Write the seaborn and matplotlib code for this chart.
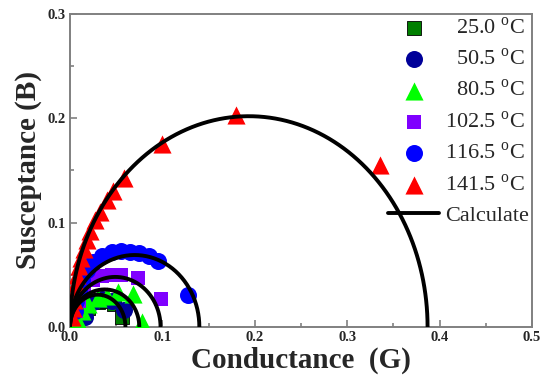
import numpy as np
import pandas as pd
import matplotlib
matplotlib.use("Agg")
import matplotlib.pyplot as plt
import seaborn as sns

# measured admittance points (G, B) for each temperature
g_25 = [0.012, 0.020, 0.030, 0.040, 0.048, 0.056]
b_25 = [0.010, 0.018, 0.024, 0.025, 0.022, 0.010]

g_50 = [0.006, 0.012, 0.016, 0.025, 0.035, 0.045, 0.058]
b_50 = [0.006, 0.012, 0.010, 0.024, 0.027, 0.025, 0.016]

g_80 = [0.008, 0.013, 0.020, 0.030, 0.040, 0.052, 0.068, 0.078]
b_80 = [0.008, 0.015, 0.022, 0.028, 0.030, 0.034, 0.032, 0.005]

g_102 = [0.006, 0.010, 0.015, 0.025, 0.035, 0.045, 0.055, 0.074, 0.098]
b_102 = [0.015, 0.025, 0.035, 0.045, 0.049, 0.050, 0.050, 0.047, 0.027]

g_116 = [0.005, 0.007, 0.010, 0.013, 0.018, 0.025, 0.035, 0.045, 0.055,
         0.065, 0.075, 0.085, 0.095, 0.128]
b_116 = [0.015, 0.025, 0.035, 0.045, 0.055, 0.062, 0.068, 0.072, 0.073,
         0.072, 0.071, 0.068, 0.063, 0.031]

g_141 = [0.002, 0.003, 0.004, 0.005, 0.007, 0.008, 0.010, 0.012, 0.015,
         0.018, 0.022, 0.027, 0.032, 0.040, 0.047, 0.058, 0.100, 0.180, 0.335]
b_141 = [0.010, 0.018, 0.026, 0.034, 0.042, 0.050, 0.058, 0.066, 0.075,
         0.083, 0.092, 0.103, 0.110, 0.122, 0.130, 0.143, 0.175, 0.203, 0.155]

# calculated semicircles: high-frequency G intercept and peak B
calc_gmax = [0.060, 0.075, 0.098, 0.140, 0.387]
calc_bpeak = [0.031, 0.036, 0.048, 0.069, 0.202]

labels = ["25.0", "50.5", "80.5", "102.5", "116.5", "141.5"]
series = [(g_25, b_25), (g_50, b_50), (g_80, b_80),
          (g_102, b_102), (g_116, b_116), (g_141, b_141)]
colors = ["#007f00", "#000099", "#00ff00", "#7f00ff", "#0000ff", "#ff0000"]
markers = ["s", "o", "^", "s", "o", "^"]
sizes = [110, 150, 170, 110, 150, 170]

sns.set_style("ticks")
plt.rcParams["font.family"] = ["Liberation Serif", "DejaVu Serif"]
plt.rcParams["mathtext.fontset"] = "custom"
plt.rcParams["mathtext.rm"] = "Liberation Serif"

fig = plt.figure(figsize=(5.49, 3.87), dpi=100)
ax = fig.add_axes([0.1275, 0.155, 0.8415, 0.809])

for i, (g, b) in enumerate(series):
    df = pd.DataFrame({"G": g, "B": b})
    pad = "\u2007" if len(labels[i]) == 4 else ""
    sns.scatterplot(data=df, x="G", y="B", ax=ax, color=colors[i],
                    marker=markers[i], s=sizes[i],
                    edgecolor="black" if i == 0 else colors[i],
                    linewidth=0.6 if i == 0 else 0, zorder=2 + i,
                    label=pad + labels[i] + " $^{\\rm o}$C")

t = np.linspace(0, np.pi, 200)
for k, (gm, bp) in enumerate(zip(calc_gmax, calc_bpeak)):
    cdf = pd.DataFrame({"G": gm / 2 + gm / 2 * np.cos(t), "B": bp * np.sin(t)})
    sns.lineplot(data=cdf, x="G", y="B", ax=ax, sort=False, color="black",
                 lw=2.8, zorder=10, label="Calculate" if k == 0 else None)

ax.set_xlim(0, 0.5)
ax.set_ylim(0, 0.3)
ax.set_xticks([0.0, 0.1, 0.2, 0.3, 0.4, 0.5])
ax.set_yticks([0.0, 0.1, 0.2, 0.3])
ax.set_xticks(np.arange(0.05, 0.5, 0.1), minor=True)
ax.set_yticks(np.arange(0.05, 0.3, 0.1), minor=True)
ax.tick_params(which="both", direction="in", top=False, right=False,
               color="#808080", width=1.2)
ax.tick_params(which="major", length=5, labelsize=10.5, pad=3)
ax.tick_params(which="minor", length=3)
for lab in ax.get_xticklabels() + ax.get_yticklabels():
    lab.set_fontweight("bold")
for sp in ax.spines.values():
    sp.set_color("#808080")
    sp.set_linewidth(1.4)

ax.set_xlabel("Conductance  (G)", fontsize=21, fontweight="bold", labelpad=2)
ax.set_ylabel("Susceptance (B)", fontsize=21, fontweight="bold", labelpad=4)

leg = ax.legend(loc="upper right", frameon=False, fontsize=16,
                handlelength=2.3, handletextpad=0.25, labelspacing=0.45,
                borderaxespad=0.05, borderpad=0.1)

fig.savefig("out.png", dpi=100)
